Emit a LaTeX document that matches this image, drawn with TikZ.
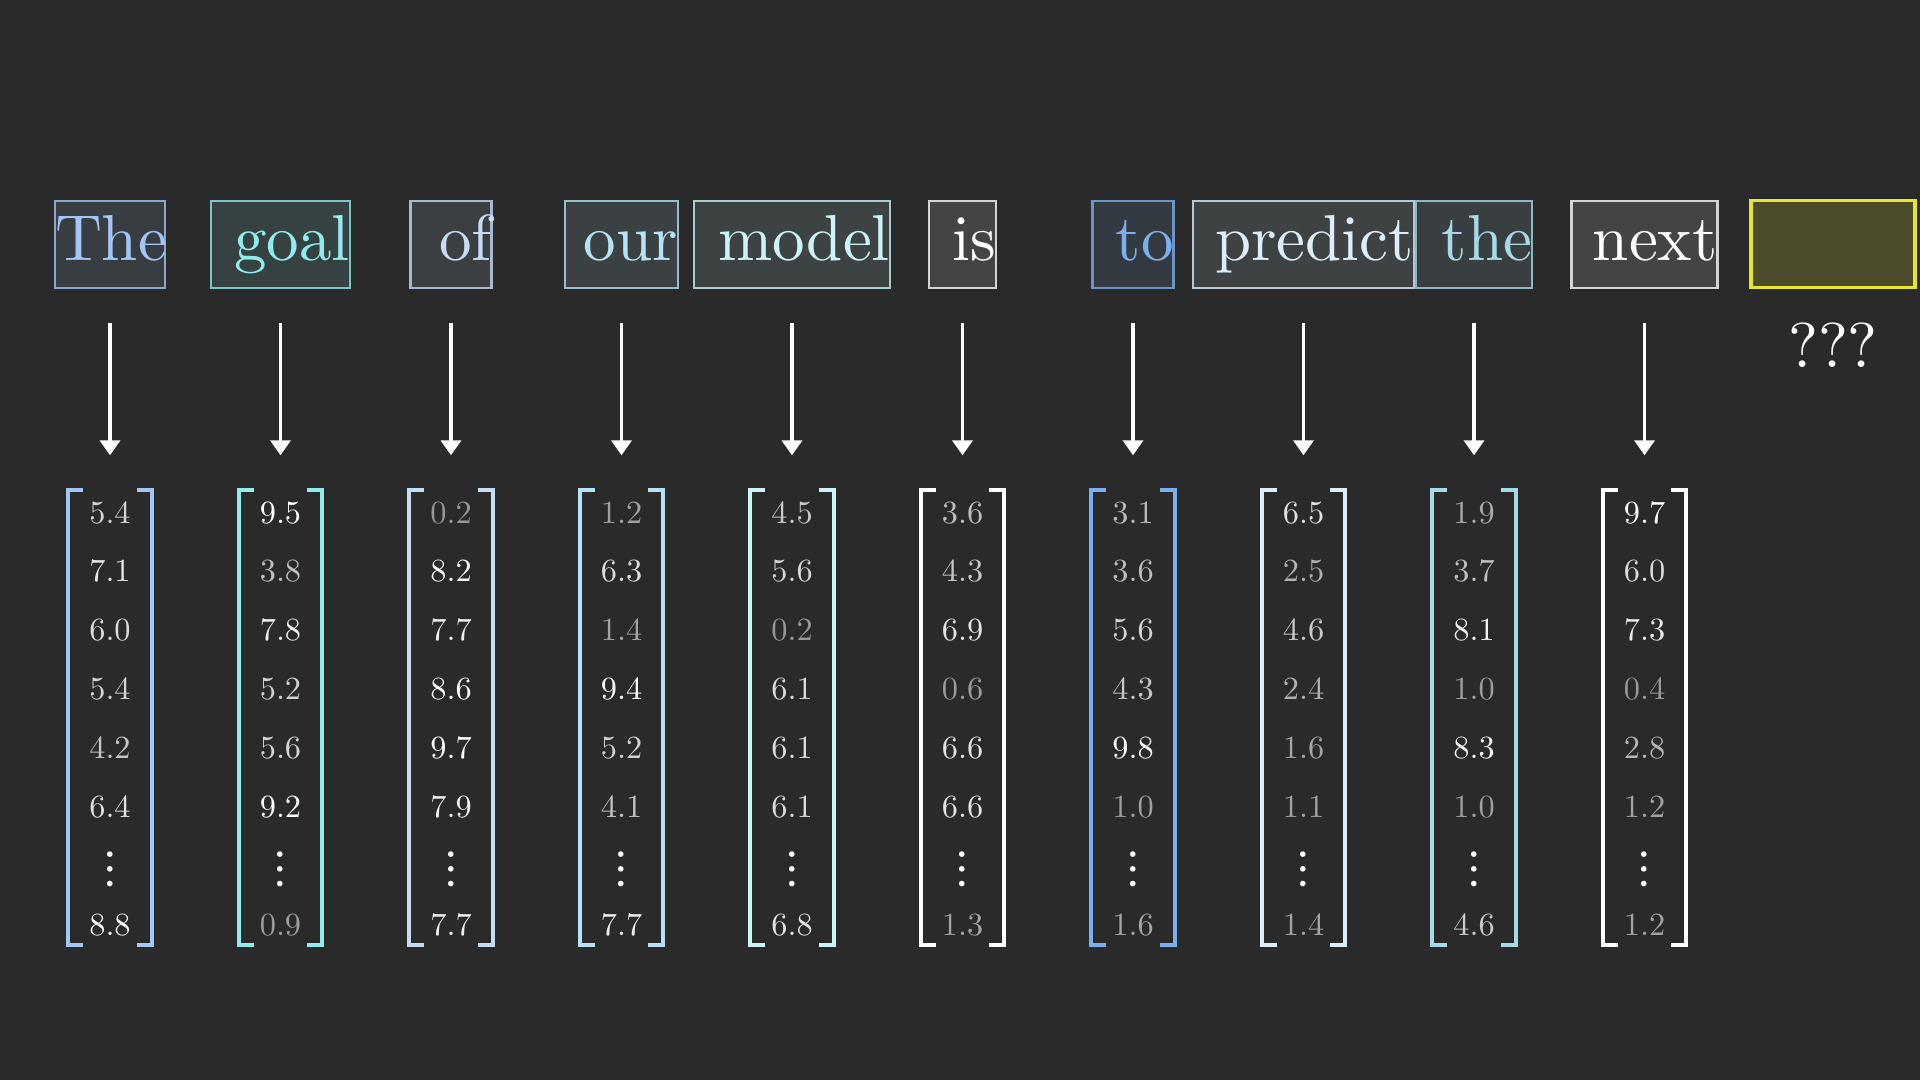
\documentclass[tikz,border=0pt]{standalone}
\usepackage{fontspec}
\setmainfont{lmroman10-regular.otf}
\newfontfamily\dotsfont{latinmodern-math.otf}
\usepackage{tikz}
\usetikzlibrary{arrows.meta, positioning}

\definecolor{bgc}{HTML}{2A2A2A}
\definecolor{cThe}{HTML}{A2C6F6}
\definecolor{cGoal}{HTML}{90ECEE}
\definecolor{cOf}{HTML}{C4DCF4}
\definecolor{cOur}{HTML}{B4E2F6}
\definecolor{cModel}{HTML}{CCF4F6}
\definecolor{cIs}{HTML}{FFFFFF}
\definecolor{cTo}{HTML}{7AB0EE}
\definecolor{cPredict}{HTML}{DCEEFC}
\definecolor{cThe2}{HTML}{A6DAE8}
\definecolor{cNext}{HTML}{FFFFFF}
\definecolor{cBlank}{HTML}{E6E62E}

\tikzset{
  tok/.style={draw=#1!80!bgc, fill=#1!12!bgc, text=#1, line width=0.6pt,
    inner xsep=0pt, inner ysep=0pt, align=right,
    text height=0.60cm, text depth=0.27cm, anchor=base,
    font=\fontsize{18.5}{22}\selectfont},
  vec/.style={minimum width=0.82cm, minimum height=4.53cm, inner sep=0pt},
  brk/.style={draw=#1, line width=1.15pt},
  arr/.style={draw=white, line width=1.1pt,
    -{Triangle[width=0.2cm, length=0.15cm]}},
  num/.style={anchor=base, inner sep=0pt, font=\fontsize{9.2}{11}\selectfont},
}

\begin{document}
\begin{tikzpicture}
\fill[bgc] (0,0) rectangle (19.2,-10.8);

% tokens, arrows and brackets
\foreach \i/\word/\wid/\col in {1/The/1.10/cThe, 2/goal/1.39/cGoal,
    3/of/0.81/cOf, 4/our/1.13/cOur, 5/model/1.96/cModel, 6/is/0.67/cIs,
    7/to/0.81/cTo, 8/predict/2.21/cPredict, 9/the/1.16/cThe2,
    10/next/1.46/cNext} {
  \pgfmathsetmacro\x{1.10+1.705*(\i-1)}
  \node[tok=\col, text width=\wid cm] (w\i) at (\x,-2.61) {\word};
  \node[vec] (v\i) at (\x,-7.175) {};
  \draw[brk=\col] ([xshift=0.15cm]v\i.north west) -- (v\i.north west)
    -- (v\i.south west) -- ([xshift=0.15cm]v\i.south west);
  \draw[brk=\col] ([xshift=-0.15cm]v\i.north east) -- (v\i.north east)
    -- (v\i.south east) -- ([xshift=-0.15cm]v\i.south east);
  \draw[arr] ([yshift=-0.34cm]w\i.south) -- ([yshift=0.35cm]v\i.north);
  \node[num, text=white, font=\dotsfont\fontsize{15}{17}\selectfont]
    (d\i) at (\x,-8.82) {⋮};
}

% entries, brighter for larger values
\foreach \i/\vals in {1/{5.4,7.1,6.0,5.4,4.2,6.4,8.8},
    2/{9.5,3.8,7.8,5.2,5.6,9.2,0.9}, 3/{0.2,8.2,7.7,8.6,9.7,7.9,7.7},
    4/{1.2,6.3,1.4,9.4,5.2,4.1,7.7}, 5/{4.5,5.6,0.2,6.1,6.1,6.1,6.8},
    6/{3.6,4.3,6.9,0.6,6.6,6.6,1.3}, 7/{3.1,3.6,5.6,4.3,9.8,1.0,1.6},
    8/{6.5,2.5,4.6,2.4,1.6,1.1,1.4}, 9/{1.9,3.7,8.1,1.0,8.3,1.0,4.6},
    10/{9.7,6.0,7.3,0.4,2.8,1.2,1.2}} {
  \foreach \v [count=\r] in \vals {
    \pgfmathsetmacro\x{1.10+1.705*(\i-1)}
    \pgfmathsetmacro\y{\r<7 ? -(5.23+0.589*(\r-1)) : -9.353}
    \pgfmathtruncatemacro\lv{min(100,50+5.5*\v)}
    \node[num, text=white!\lv!bgc] (n\i-\r) at (\x,\y) {\v};
  }
}

% the unknown next token
\node[draw=cBlank, fill=cBlank!18!bgc, line width=0.9pt,
  minimum width=1.64cm, minimum height=0.87cm] (blank) at (18.33,-2.44) {};
\node[text=white, font=\fontsize{18}{22}\selectfont] (q) at (18.33,-3.45) {???};
\end{tikzpicture}
\end{document}
